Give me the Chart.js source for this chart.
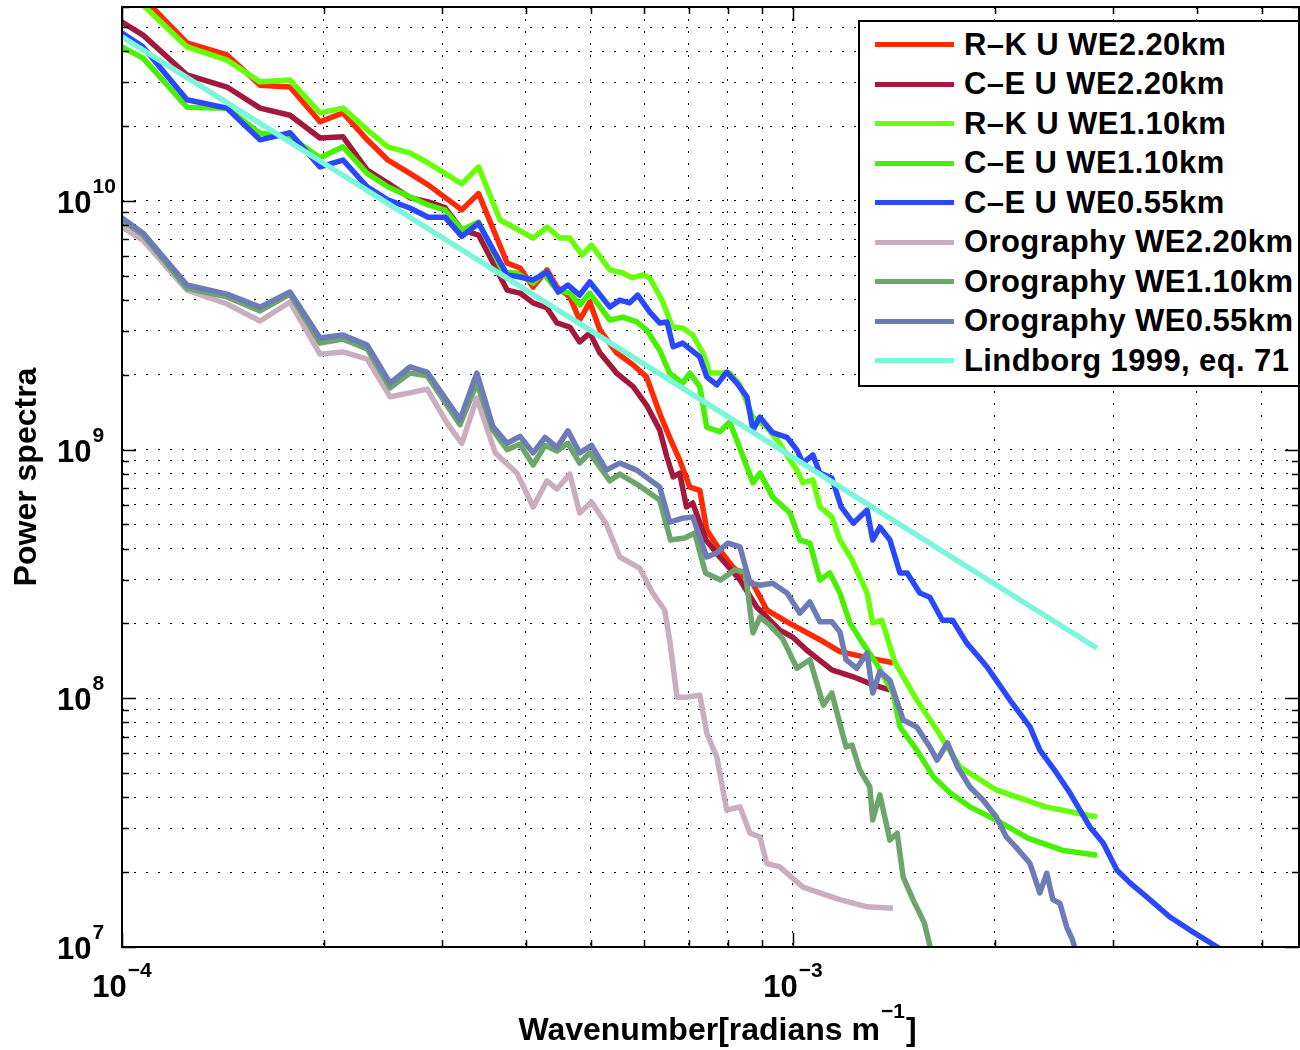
<!DOCTYPE html>
<html>
<head>
<meta charset="utf-8">
<script src="https://cdn.jsdelivr.net/npm/chart.js@4.4.0/dist/chart.umd.min.js"></script>
<style>
  body { margin: 0; background: #fff; }
  #wrap { position: relative; width: 1300px; height: 1050px; }
  #legend {
    position: absolute; left: 858px; top: 20px; width: 442px; height: 367px;
    box-sizing: border-box; border: 2px solid #000; background: #fff; padding-top: 3px;
    font: bold 31px "Liberation Sans", Arial, sans-serif; letter-spacing: 0.4px; color: #000;
  }
  .row { height: 39.5px; display: flex; align-items: center; white-space: nowrap; }
  .swatch { width: 79px; height: 5px; margin-left: 15px; margin-right: 10px; flex: none; }
</style>
</head>
<body>
<div id="wrap">
  <canvas id="spectra" width="1300" height="1050"></canvas>
  <div id="legend"></div>
</div>
<script>
// wavenumber [rad/m], power spectrum
const rkWE220 = [
  [1.075e-4, 6.55e10], [1.25e-4, 4.32e10], [1.434e-4, 3.86e10], [1.606e-4, 2.92e10], [1.78e-4, 2.87e10],
  [1.973e-4, 2.08e10], [2.135e-4, 2.26e10], [2.32e-4, 1.76e10], [2.49e-4, 1.46e10], [2.686e-4, 1.29e10],
  [2.86e-4, 1.16e10], [3.21e-4, 9.2e9], [3.40e-4, 1.07e10], [3.75e-4, 5.63e9], [3.92e-4, 5.37e9],
  [4.10e-4, 4.50e9], [4.30e-4, 5.28e9], [4.45e-4, 4.50e9], [4.65e-4, 4.11e9], [4.81e-4, 3.32e9],
  [4.98e-4, 3.92e9], [5.155e-4, 3.03e9], [5.46e-4, 2.45e9], [5.78e-4, 2.19e9], [6.05e-4, 1.96e9],
  [6.33e-4, 1.40e9], [6.55e-4, 1.12e9], [6.78e-4, 9.07e8], [7.02e-4, 7.07e8], [7.265e-4, 6.86e8],
  [7.44e-4, 4.75e8], [7.78e-4, 3.95e8], [8.14e-4, 3.37e8], [8.71e-4, 2.90e8], [9.15e-4, 2.26e8],
  [9.80e-4, 2.03e8], [1.097e-3, 1.72e8], [1.175e-3, 1.54e8], [1.302e-3, 1.45e8], [1.41e-3, 1.39e8]
];
const ceWE220 = [
  [8.95e-5, 6.31e10], [1e-4, 5.24e10], [1.075e-4, 4.64e10], [1.25e-4, 3.21e10], [1.434e-4, 2.87e10],
  [1.606e-4, 2.36e10], [1.78e-4, 2.21e10], [1.973e-4, 1.79e10], [2.135e-4, 1.81e10], [2.32e-4, 1.33e10],
  [2.49e-4, 1.18e10], [2.686e-4, 1.03e10], [2.86e-4, 9.9e9], [3.03e-4, 9.4e9], [3.21e-4, 7.64e9],
  [3.40e-4, 7.29e9], [3.75e-4, 4.38e9], [3.92e-4, 4.26e9], [4.10e-4, 3.89e9], [4.30e-4, 3.71e9],
  [4.45e-4, 3.23e9], [4.65e-4, 3.11e9], [4.81e-4, 2.71e9], [4.98e-4, 2.94e9], [5.155e-4, 2.45e9],
  [5.46e-4, 2.03e9], [5.78e-4, 1.79e9], [6.05e-4, 1.51e9], [6.33e-4, 1.20e9], [6.49e-4, 9.34e8],
  [6.63e-4, 7.76e8], [6.78e-4, 8.04e8], [6.94e-4, 5.88e8], [7.09e-4, 6.10e8], [7.42e-4, 4.33e8],
  [7.78e-4, 3.70e8], [8.34e-4, 2.99e8], [8.83e-4, 2.33e8], [9.56e-4, 1.88e8], [1.0e-3, 1.76e8],
  [1.049e-3, 1.56e8], [1.143e-3, 1.30e8], [1.23e-3, 1.22e8], [1.32e-3, 1.13e8], [1.395e-3, 1.08e8]
];
const rkWE110 = [
  [8.95e-5, 9.3e10], [1.075e-4, 6.13e10], [1.25e-4, 4.16e10], [1.434e-4, 3.68e10], [1.606e-4, 3.01e10],
  [1.78e-4, 3.06e10], [1.973e-4, 2.26e10], [2.135e-4, 2.36e10], [2.32e-4, 1.93e10], [2.49e-4, 1.65e10],
  [2.686e-4, 1.56e10], [2.86e-4, 1.42e10], [3.21e-4, 1.17e10], [3.40e-4, 1.37e10], [3.66e-4, 8.38e9],
  [3.83e-4, 7.85e9], [4.10e-4, 7.09e9], [4.30e-4, 7.85e9], [4.49e-4, 7.09e9], [4.65e-4, 7.09e9],
  [4.85e-4, 6.06e9], [5.01e-4, 6.64e9], [5.335e-4, 5.28e9], [5.58e-4, 5.13e9], [5.76e-4, 4.90e9],
  [5.97e-4, 5.04e9], [6.12e-4, 4.90e9], [6.40e-4, 3.92e9], [6.61e-4, 3.11e9], [6.85e-4, 3.08e9],
  [7.09e-4, 2.89e9], [7.34e-4, 2.45e9], [7.52e-4, 2.03e9], [8.05e-4, 2.03e9], [8.34e-4, 1.82e9],
  [8.71e-4, 1.35e9], [9.14e-4, 1.23e9], [9.56e-4, 1.06e9], [9.90e-4, 9.07e8], [1.014e-3, 8.27e8],
  [1.035e-3, 7.35e8], [1.071e-3, 7.56e8], [1.097e-3, 5.88e8], [1.143e-3, 5.36e8], [1.175e-3, 4.33e8],
  [1.225e-3, 3.60e8], [1.29e-3, 2.65e8], [1.315e-3, 2.01e8], [1.357e-3, 2.06e8], [1.42e-3, 1.39e8],
  [1.53e-3, 9.84e7], [1.65e-3, 7.25e7], [1.774e-3, 5.29e7], [2.01e-3, 4.28e7], [2.38e-3, 3.66e7],
  [2.84e-3, 3.33e7]
];
const ceWE110 = [
  [8.95e-5, 4.86e10], [1e-4, 4.16e10], [1.075e-4, 3.75e10], [1.25e-4, 2.38e10], [1.434e-4, 2.36e10],
  [1.606e-4, 1.87e10], [1.78e-4, 1.81e10], [1.973e-4, 1.49e10], [2.135e-4, 1.65e10], [2.32e-4, 1.29e10],
  [2.49e-4, 1.14e10], [2.686e-4, 1.04e10], [2.86e-4, 9.63e9], [3.03e-4, 9.19e9], [3.21e-4, 7.64e9],
  [3.40e-4, 8.22e9], [3.70e-4, 5.17e9], [3.88e-4, 5.13e9], [4.10e-4, 4.67e9], [4.24e-4, 5.13e9],
  [4.45e-4, 4.38e9], [4.65e-4, 4.26e9], [4.81e-4, 3.81e9], [4.98e-4, 4.26e9], [5.335e-4, 3.32e9],
  [5.58e-4, 3.41e9], [5.85e-4, 3.26e9], [6.05e-4, 3.03e9], [6.33e-4, 2.51e9], [6.55e-4, 2.03e9],
  [6.85e-4, 1.85e9], [7.02e-4, 2.03e9], [7.265e-4, 1.79e9], [7.44e-4, 1.23e9], [7.78e-4, 1.18e9],
  [8.05e-4, 1.29e9], [8.25e-4, 1.09e9], [8.54e-4, 8.51e8], [8.72e-4, 7.35e8], [8.93e-4, 8.04e8],
  [9.33e-4, 6.44e8], [9.90e-4, 5.56e8], [1.024e-3, 4.33e8], [1.06e-3, 4.21e8], [1.097e-3, 2.99e8],
  [1.135e-3, 3.19e8], [1.175e-3, 2.65e8], [1.216e-3, 2.01e8], [1.27e-3, 1.67e8], [1.33e-3, 1.39e8],
  [1.41e-3, 1.05e8], [1.444e-3, 7.67e7], [1.53e-3, 6.19e7], [1.62e-3, 4.83e7], [1.714e-3, 4.17e7],
  [1.836e-3, 3.66e7], [2.01e-3, 3.24e7], [2.24e-3, 2.74e7], [2.52e-3, 2.45e7], [2.84e-3, 2.34e7]
];
const ceWE055 = [
  [8.95e-5, 5.74e10], [1e-4, 4.73e10], [1.075e-4, 4.16e10], [1.25e-4, 2.55e10], [1.434e-4, 2.36e10],
  [1.606e-4, 1.76e10], [1.78e-4, 1.88e10], [1.973e-4, 1.37e10], [2.135e-4, 1.46e10], [2.32e-4, 1.14e10],
  [2.49e-4, 1.01e10], [2.686e-4, 9.36e9], [2.86e-4, 8.6e9], [3.03e-4, 8.6e9], [3.21e-4, 7.2e9],
  [3.40e-4, 8.13e9], [3.75e-4, 5.04e9], [3.92e-4, 4.94e9], [4.10e-4, 4.81e9], [4.30e-4, 5.17e9],
  [4.47e-4, 4.30e9], [4.62e-4, 4.59e9], [4.81e-4, 4.18e9], [4.98e-4, 4.72e9], [5.335e-4, 3.74e9],
  [5.52e-4, 3.99e9], [5.71e-4, 3.89e9], [5.87e-4, 4.18e9], [6.12e-4, 3.57e9], [6.33e-4, 3.23e9],
  [6.49e-4, 3.26e9], [6.63e-4, 2.59e9], [6.85e-4, 2.68e9], [7.265e-4, 2.36e9], [7.44e-4, 1.96e9],
  [7.70e-4, 1.82e9], [7.97e-4, 2.05e9], [8.25e-4, 1.85e9], [8.54e-4, 1.63e9], [8.72e-4, 1.20e9],
  [8.93e-4, 1.35e9], [9.33e-4, 1.17e9], [9.80e-4, 1.12e9], [1.014e-3, 9.96e8], [1.035e-3, 8.82e8],
  [1.071e-3, 9.52e8], [1.097e-3, 8.04e8], [1.143e-3, 7.68e8], [1.18e-3, 5.88e8], [1.23e-3, 5.06e8],
  [1.29e-3, 5.71e8], [1.315e-3, 4.33e8], [1.348e-3, 4.88e8], [1.395e-3, 4.33e8], [1.444e-3, 3.19e8],
  [1.48e-3, 3.19e8], [1.546e-3, 2.65e8], [1.60e-3, 2.55e8], [1.67e-3, 2.06e8], [1.73e-3, 2.06e8],
  [1.815e-3, 1.67e8], [1.87e-3, 1.52e8], [1.946e-3, 1.34e8], [2.01e-3, 1.18e8], [2.106e-3, 9.84e7],
  [2.256e-3, 7.67e7], [2.334e-3, 6.19e7], [2.47e-3, 5.02e7], [2.587e-3, 4.17e7], [2.771e-3, 3.04e7],
  [2.90e-3, 2.62e7], [3.04e-3, 2.04e7], [3.18e-3, 1.81e7], [3.405e-3, 1.55e7], [3.647e-3, 1.32e7],
  [3.906e-3, 1.17e7], [4.29e-3, 1.0e7], [4.64e-3, 8.46e6]
];
const oroWE220 = [
  [8.95e-5, 9.36e9], [1e-4, 7.85e9], [1.075e-4, 6.94e9], [1.25e-4, 4.38e9], [1.434e-4, 3.85e9],
  [1.606e-4, 3.29e9], [1.78e-4, 3.92e9], [1.973e-4, 2.42e9], [2.135e-4, 2.47e9], [2.32e-4, 2.31e9],
  [2.51e-4, 1.63e9], [2.686e-4, 1.69e9], [2.85e-4, 1.75e9], [3.05e-4, 1.28e9], [3.21e-4, 1.06e9],
  [3.38e-4, 1.61e9], [3.60e-4, 9.7e8], [3.88e-4, 8.04e8], [4.10e-4, 5.88e8], [4.30e-4, 7.49e8],
  [4.45e-4, 6.94e8], [4.65e-4, 7.97e8], [4.81e-4, 5.56e8], [5.01e-4, 6.16e8], [5.27e-4, 5.02e8],
  [5.52e-4, 3.70e8], [5.91e-4, 3.34e8], [6.18e-4, 2.65e8], [6.44e-4, 2.26e8], [6.55e-4, 1.72e8],
  [6.72e-4, 1.01e8], [6.94e-4, 1.01e8], [7.265e-4, 1.03e8], [7.44e-4, 7.25e7], [7.70e-4, 5.81e7],
  [7.97e-4, 3.55e7], [8.34e-4, 3.66e7], [8.63e-4, 2.87e7], [8.93e-4, 2.77e7], [9.14e-4, 2.17e7],
  [9.56e-4, 2.10e7], [9.80e-4, 1.98e7], [1.035e-3, 1.74e7], [1.097e-3, 1.65e7], [1.175e-3, 1.55e7],
  [1.29e-3, 1.45e7], [1.41e-3, 1.43e7]
];
const oroWE110 = [
  [8.95e-5, 1.037e10], [1e-4, 8.38e9], [1.075e-4, 7.29e9], [1.25e-4, 4.45e9], [1.434e-4, 4.11e9],
  [1.606e-4, 3.61e9], [1.78e-4, 4.22e9], [1.973e-4, 2.68e9], [2.135e-4, 2.78e9], [2.32e-4, 2.54e9],
  [2.51e-4, 1.77e9], [2.686e-4, 2.03e9], [2.85e-4, 1.98e9], [3.19e-4, 1.26e9], [3.38e-4, 1.85e9],
  [3.57e-4, 1.20e9], [3.75e-4, 1.0e9], [3.92e-4, 1.05e9], [4.10e-4, 8.67e8], [4.27e-4, 1.04e9],
  [4.45e-4, 9.87e8], [4.62e-4, 1.06e9], [4.81e-4, 8.82e8], [4.98e-4, 9.7e8], [5.335e-4, 7.49e8],
  [5.52e-4, 7.97e8], [5.85e-4, 7.27e8], [6.33e-4, 6.27e8], [6.57e-4, 4.33e8], [6.90e-4, 4.41e8],
  [7.14e-4, 4.62e8], [7.41e-4, 3.19e8], [7.80e-4, 2.99e8], [8.19e-4, 3.28e8], [8.49e-4, 3.22e8],
  [8.72e-4, 1.83e8], [8.93e-4, 2.12e8], [9.24e-4, 1.97e8], [9.66e-4, 1.73e8], [1.014e-3, 1.32e8],
  [1.06e-3, 1.43e8], [1.11e-3, 9.39e7], [1.143e-3, 1.05e8], [1.20e-3, 6.37e7], [1.225e-3, 6.49e7],
  [1.258e-3, 5.15e7], [1.302e-3, 4.40e7], [1.315e-3, 3.24e7], [1.348e-3, 4.09e7], [1.395e-3, 2.69e7],
  [1.43e-3, 2.87e7], [1.46e-3, 1.91e7], [1.51e-3, 1.55e7], [1.57e-3, 1.25e7], [1.606e-3, 9.7e6]
];
const oroWE055 = [
  [8.95e-5, 1.056e10], [1e-4, 8.54e9], [1.075e-4, 7.42e9], [1.25e-4, 4.59e9], [1.434e-4, 4.22e9],
  [1.606e-4, 3.74e9], [1.78e-4, 4.30e9], [1.973e-4, 2.81e9], [2.135e-4, 2.89e9], [2.32e-4, 2.63e9],
  [2.51e-4, 1.85e9], [2.686e-4, 2.15e9], [2.85e-4, 2.05e9], [3.19e-4, 1.32e9], [3.38e-4, 2.03e9],
  [3.57e-4, 1.24e9], [3.75e-4, 1.06e9], [3.92e-4, 1.13e9], [4.10e-4, 9.7e8], [4.27e-4, 1.12e9],
  [4.45e-4, 1.02e9], [4.62e-4, 1.19e9], [4.81e-4, 9.7e8], [5.01e-4, 1.04e9], [5.27e-4, 8.27e8],
  [5.52e-4, 8.82e8], [5.85e-4, 8.27e8], [6.33e-4, 7.07e8], [6.55e-4, 5.11e8], [6.85e-4, 5.30e8],
  [7.09e-4, 5.36e8], [7.44e-4, 3.70e8], [7.70e-4, 3.84e8], [8.0e-4, 4.21e8], [8.34e-4, 4.06e8],
  [8.63e-4, 2.90e8], [8.93e-4, 2.85e8], [9.33e-4, 2.90e8], [9.80e-4, 2.65e8], [1.024e-3, 2.20e8],
  [1.06e-3, 2.44e8], [1.097e-3, 2.03e8], [1.143e-3, 2.03e8], [1.175e-3, 1.85e8], [1.20e-3, 1.43e8],
  [1.245e-3, 1.32e8], [1.29e-3, 1.52e8], [1.315e-3, 1.05e8], [1.348e-3, 1.28e8], [1.395e-3, 1.18e8],
  [1.46e-3, 8.18e7], [1.53e-3, 7.67e7], [1.60e-3, 6.37e7], [1.64e-3, 5.64e7], [1.70e-3, 6.61e7],
  [1.76e-3, 5.29e7], [1.836e-3, 4.40e7], [1.92e-3, 3.90e7], [2.01e-3, 3.33e7], [2.08e-3, 2.77e7],
  [2.15e-3, 2.52e7], [2.256e-3, 2.17e7], [2.334e-3, 1.65e7], [2.39e-3, 1.98e7], [2.44e-3, 1.55e7],
  [2.50e-3, 1.50e7], [2.56e-3, 1.20e7], [2.61e-3, 1.07e7], [2.65e-3, 9.3e6]
];
const lindborg = [
  [1e-4, 4.57e10], [1e-3, 9.3e8], [2.84e-3, 1.59e8]
];

const seriesNames = [
  'R–K U WE2.20km', 'C–E U WE2.20km', 'R–K U WE1.10km', 'C–E U WE1.10km', 'C–E U WE0.55km',
  'Orography WE2.20km', 'Orography WE1.10km', 'Orography WE0.55km', 'Lindborg 1999, eq. 71'
];
const seriesData = [rkWE220, ceWE220, rkWE110, ceWE110, ceWE055, oroWE220, oroWE110, oroWE055, lindborg];
const seriesColors = [
  '#ff2a04', '#a5183d', '#68ff0a', '#48f004', '#2a49ff', '#cbadc0', '#6ca66c', '#6d7cb6', '#7cf6da'
];

const xTicks = [1e-4, 2e-4, 3e-4, 4e-4, 5e-4, 6e-4, 7e-4, 8e-4, 9e-4, 1e-3, 2e-3, 3e-3, 4e-3, 5e-3];
const yTicks = [
  1e7, 2e7, 3e7, 4e7, 5e7, 6e7, 7e7, 8e7, 9e7,
  1e8, 2e8, 3e8, 4e8, 5e8, 6e8, 7e8, 8e8, 9e8,
  1e9, 2e9, 3e9, 4e9, 5e9, 6e9, 7e9, 8e9, 9e9,
  1e10, 2e10, 3e10, 4e10, 5e10, 6e10
];
const xLabelValues = [1e-4, 1e-3];
const xLabelExps = ['−4', '−3'];
const yLabelValues = [1e7, 1e8, 1e9, 1e10];
const yLabelExps = ['7', '8', '9', '10'];
const xTitle = ['Wavenumber[radians m', '−1', ']'];
const yTitle = 'Power spectra';

const FONT = '"Liberation Sans", Arial, Helvetica, sans-serif';
const BIG = `bold 31px ${FONT}`;
const SUP = `bold 21px ${FONT}`;
const TITLE = `bold 32px ${FONT}`;

function isDecade(v) {
  const l = Math.log10(v);
  return Math.abs(l - Math.round(l)) < 1e-6;
}

// "10" with a raised exponent, like the MATLAB tick labels
function drawPower(ctx, exp, x, baseline, align) {
  ctx.font = BIG;
  const wb = ctx.measureText('10').width;
  ctx.font = SUP;
  const we = ctx.measureText(exp).width;
  const left = align === 'center' ? x - (wb + we + 1) / 2 : x;
  ctx.textAlign = 'left';
  ctx.textBaseline = 'alphabetic';
  ctx.font = BIG;
  ctx.fillText('10', left, baseline);
  ctx.font = SUP;
  ctx.fillText(exp, left + wb + 1, baseline - 20);
}

// box, inward tick marks, tick labels and axis titles
const framePlugin = {
  id: 'frame',
  afterDraw(chart) {
    const { ctx, chartArea: a, scales: { x, y } } = chart;
    ctx.save();
    ctx.strokeStyle = '#000';
    ctx.lineWidth = 1.5;
    ctx.beginPath();
    xTicks.forEach(v => {
      const px = Math.round(x.getPixelForValue(v)) + 0.5;
      const len = isDecade(v) ? 14 : 7;
      ctx.moveTo(px, a.bottom); ctx.lineTo(px, a.bottom - len);
      ctx.moveTo(px, a.top); ctx.lineTo(px, a.top + len);
    });
    yTicks.forEach(v => {
      const py = Math.round(y.getPixelForValue(v)) + 0.5;
      const len = isDecade(v) ? 14 : 7;
      ctx.moveTo(a.left, py); ctx.lineTo(a.left + len, py);
      ctx.moveTo(a.right, py); ctx.lineTo(a.right - len, py);
    });
    ctx.stroke();
    ctx.lineWidth = 2;
    ctx.strokeRect(a.left, a.top, a.right - a.left, a.bottom - a.top);

    ctx.fillStyle = '#000';
    xLabelValues.forEach((v, i) => drawPower(ctx, xLabelExps[i], x.getPixelForValue(v), a.bottom + 50, 'center'));
    yLabelValues.forEach((v, i) => drawPower(ctx, yLabelExps[i], 57, y.getPixelForValue(v) + 12, 'left'));

    // x title with superscript
    ctx.font = TITLE;
    const w0 = ctx.measureText(xTitle[0]).width;
    const w2 = ctx.measureText(xTitle[2]).width;
    ctx.font = SUP;
    const w1 = ctx.measureText(xTitle[1]).width;
    const cx = (a.left + a.right) / 2 + 7;
    let tx = cx - (w0 + w1 + w2 + 2) / 2;
    const tb = a.bottom + 93;
    ctx.textAlign = 'left';
    ctx.font = TITLE;
    ctx.fillText(xTitle[0], tx, tb);
    tx += w0 + 1;
    ctx.font = SUP;
    ctx.fillText(xTitle[1], tx, tb - 22);
    tx += w1 + 1;
    ctx.font = TITLE;
    ctx.fillText(xTitle[2], tx, tb);

    // y title, rotated
    ctx.translate(36, (a.top + a.bottom) / 2);
    ctx.rotate(-Math.PI / 2);
    ctx.textAlign = 'center';
    ctx.font = TITLE;
    ctx.fillText(yTitle, 0, 0);
    ctx.restore();
  }
};

new Chart(document.getElementById('spectra').getContext('2d'), {
  type: 'line',
  data: {
    datasets: seriesData.map((pts, i) => ({
      label: seriesNames[i],
      data: pts.map(([k, p]) => ({ x: k, y: p })),
      borderColor: seriesColors[i],
      backgroundColor: seriesColors[i],
      borderWidth: 5.5,
      pointRadius: 0,
      tension: 0,
      fill: false,
      borderJoinStyle: 'round',
      order: seriesData.length - i,
      clip: 0
    }))
  },
  options: {
    responsive: false,
    animation: false,
    devicePixelRatio: 1,
    layout: { padding: { top: 7, right: 1, left: 0, bottom: 0 } },
    plugins: { legend: { display: false }, tooltip: { enabled: false } },
    scales: {
      x: {
        type: 'logarithmic',
        min: 1e-4,
        max: 5.68e-3,
        afterBuildTicks: s => { s.ticks = xTicks.map(v => ({ value: v })); },
        afterFit: s => { s.height = 103; s.paddingLeft = 0; s.paddingRight = 0; },
        grid: { color: '#000', lineWidth: 1, drawTicks: false },
        border: { display: false, dash: [2, 10] },
        ticks: { display: false, autoSkip: false }
      },
      y: {
        type: 'logarithmic',
        min: 1e7,
        max: 6.02e10,
        afterBuildTicks: s => { s.ticks = yTicks.map(v => ({ value: v })); },
        afterFit: s => { s.width = 122; s.paddingTop = 0; s.paddingBottom = 0; },
        grid: { color: '#000', lineWidth: 1, drawTicks: false },
        border: { display: false, dash: [2, 10] },
        ticks: { display: false, autoSkip: false }
      }
    }
  },
  plugins: [framePlugin]
});

// legend box in the upper right corner of the axes
const legend = document.getElementById('legend');
seriesNames.forEach((name, i) => {
  const row = document.createElement('div');
  row.className = 'row';
  const sw = document.createElement('span');
  sw.className = 'swatch';
  sw.style.background = seriesColors[i];
  const txt = document.createElement('span');
  txt.textContent = name;
  row.appendChild(sw);
  row.appendChild(txt);
  legend.appendChild(row);
});
</script>
</body>
</html>
